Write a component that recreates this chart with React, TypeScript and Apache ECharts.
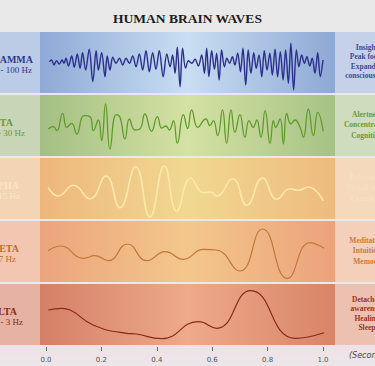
import React, { useEffect, useRef } from "react";
import * as echarts from "echarts";

const X_TICKS = [0, 0.2, 0.4, 0.6, 0.8, 1.0];
const bandNames = ["GAMMA", "BETA", "ALPHA", "THETA", "DELTA"];
const bandRanges = ["30 - 100 Hz", "12 - 30 Hz", "8 - 15 Hz", "4 - 7 Hz", "0.1 - 3 Hz"];
const bandTraits = [
  ["Insight", "Peak focus", "Expanded", "consciousness"],
  ["Alertness", "Concentration", "Cognition"],
  ["Relaxation", "Visualization", "Creativity"],
  ["Meditation", "Intuition", "Memory"],
  ["Detached", "awareness", "Healing", "Sleep"],
];

const gammaWave = [
  [0.012, 0.8], [0.02, 2.5], [0.029, -2.5], [0.038, 1.8], [0.048, -1.5], [0.058, 2.5], [0.065, -0.8],
  [0.072, 4.2], [0.081, -3.5], [0.093, 6.5], [0.102, -4.8], [0.113, 8.5], [0.123, -5.8], [0.132, 9.8],
  [0.143, -7.5], [0.156, 13.2], [0.169, -19.2], [0.181, 11.8], [0.189, -7.5], [0.201, 9.8], [0.213, -14.2],
  [0.221, 6.5], [0.231, -7.5], [0.241, 5.2], [0.253, -0.8], [0.265, 4.2], [0.277, -2.5], [0.289, 4.2],
  [0.301, -0.8], [0.313, 6.5], [0.325, -4.2], [0.337, 8.5], [0.349, -7.5], [0.361, 11.8], [0.373, -9.2],
  [0.385, 9.8], [0.397, -6.8], [0.409, 11.8], [0.423, -14.2], [0.436, 8.5], [0.448, -4.2], [0.457, 7.5],
  [0.466, -10.8], [0.474, 15.2], [0.484, -24.2], [0.493, 14.2], [0.504, -5.8], [0.514, 1.8], [0.526, -0.8],
  [0.538, 3.2], [0.55, -3.5], [0.562, 7.5], [0.572, -10.8], [0.58, 14.2], [0.588, -14.2], [0.598, 11.8],
  [0.608, -6.8], [0.616, 9.2], [0.625, -17.5], [0.634, 12.5], [0.644, -4.2], [0.653, 4.2], [0.663, -0.8],
  [0.673, 5.8], [0.682, -2.5], [0.692, 9.2], [0.702, -9.2], [0.711, 14.2], [0.721, -22.5], [0.73, 12.5],
  [0.74, -10.8], [0.75, 9.8], [0.759, -5.8], [0.769, 7.5], [0.779, -14.2], [0.788, 11.8], [0.798, -7.5],
  [0.808, 9.2], [0.817, -12.5], [0.827, 13.2], [0.836, -14.2], [0.846, 10.8], [0.856, -17.5], [0.865, 12.5],
  [0.875, -20.8], [0.884, 19.2], [0.894, -27.5], [0.904, 12.5], [0.913, -4.2], [0.923, 7.5], [0.933, -0.8],
  [0.942, 5.8], [0.952, -3.5], [0.961, 4.2], [0.971, -10.8], [0.981, 9.8], [0.99, -14.2], [1.0, 2.5],
];

const betaWave = [
  [0.008, -3.5], [0.026, -1.2], [0.039, -5.2], [0.06, 12.2], [0.075, -1.8], [0.093, 2.2], [0.111, -8.5],
  [0.137, 9.8], [0.159, 8.8], [0.171, -5.2], [0.189, 5.5], [0.201, -15.2], [0.215, 21.5], [0.231, -23.5],
  [0.253, 10.8], [0.267, 8.2], [0.285, -13.5], [0.301, 6.5], [0.321, -4.5], [0.339, -3.5], [0.357, 11.5],
  [0.381, -5.8], [0.402, 8.8], [0.418, -2.5], [0.433, -0.5], [0.445, -4.5], [0.46, 4.8], [0.474, -17.8],
  [0.496, 10.8], [0.511, -3.0], [0.526, 15.5], [0.548, -1.8], [0.577, 6.5], [0.592, -0.2], [0.604, 4.8],
  [0.62, -10.2], [0.637, 15.5], [0.652, -17.8], [0.668, 15.5], [0.682, -6.8], [0.7, 10.8], [0.718, -11.8],
  [0.733, 4.8], [0.748, -1.8], [0.761, 5.5], [0.776, -11.8], [0.791, 14.8], [0.809, -17.8], [0.821, 4.8],
  [0.829, -1.8], [0.845, 6.5], [0.857, -18.5], [0.869, 12.2], [0.884, 1.5], [0.899, 5.5], [0.917, -1.8],
  [0.929, -11.8], [0.947, 16.5], [0.965, -10.2], [0.981, 13.2], [1.001, -5.8],
];

const alphaWave = [
  [0.008, 0.8], [0.044, -7.5], [0.099, 3.2], [0.159, -10.2], [0.217, 12.5], [0.267, -19.2], [0.324, 21.8],
  [0.375, -28.5], [0.427, 22.5], [0.472, -22.5], [0.523, 10.2], [0.568, -4.2], [0.595, -3.5], [0.616, -7.5],
  [0.674, 9.8], [0.725, -16.8], [0.782, 10.5], [0.833, -10.8], [0.881, -0.2], [0.911, -1.8], [0.947, 1.5],
  [1.001, -12.5],
];

const thetaWave = [
  [0.008, 0.8], [0.053, 5.5], [0.135, -6.8], [0.177, -4.2], [0.225, -9.2], [0.294, 7.5], [0.364, -9.2],
  [0.43, -0.2], [0.496, -7.8], [0.568, 2.2], [0.616, 1.5], [0.7, -19.5], [0.782, 22.5], [0.871, -26.8],
  [0.953, 8.8], [1.004, 3.2],
];

const deltaWave = [
  [0.008, 4.5], [0.057, 6.2], [0.087, 4.5], [0.17, -10.5], [0.29, -18.8], [0.326, -19.5], [0.417, -24.2],
  [0.55, -7.2], [0.616, -13.8], [0.739, 23.8], [0.899, -23.8], [1.004, -18.2],
];

const waves = [gammaWave, betaWave, alphaWave, thetaWave, deltaWave];

// layout / style
const BAND_TOPS = [32, 95, 158, 221, 284];
const BAND_H = 61;
const lineColors = ["#2a2e8c", "#5f9a2c", "#fbe9a8", "#c07838", "#8a2a1a"];
const lineWidths = [1.4, 1.3, 1.6, 1.2, 1.2];
const plotBg = [
  ["#8ea9d6", "#c9def2", "#8ea8d5"],
  ["#a3bf83", "#d4e2a3", "#a6c285"],
  ["#eeb67c", "#f1d890", "#eeba7e"],
  ["#eca47c", "#f3c78c", "#eca27b"],
  ["#d47f67", "#eeaa8a", "#d88467"],
];
const leftBg = ["#bccbe6", "#c9d5b7", "#f3d4b4", "#f2c6b0", "#e6b2a3"];
const rightBg = ["#c5d1e8", "#d0dcbe", "#f4d9bd", "#f4cfba", "#ecc1b2"];
const nameColors = ["#2c3a8a", "#6a9a32", "#fbe6c6", "#b8702e", "#8a2a1a"];
const traitColors = ["#3a4a9c", "#6c9a36", "#f8dfc4", "#cf7a3a", "#9a3222"];
const nameEnds = [33, 13, 19, 19, 17];
const rangeEnds = [32, 25, 20, 16, 23];

export default function App() {
  const ref = useRef<HTMLDivElement>(null);
  useEffect(() => {
    if (!ref.current) return;
    const chart = echarts.init(ref.current, null, { renderer: "svg" });
    const graphics: any[] = [];
    BAND_TOPS.forEach((top, i) => {
      graphics.push({
        type: "rect", z: 0, shape: { x: 0, y: top, width: 40, height: BAND_H },
        style: { fill: leftBg[i] },
      });
      graphics.push({
        type: "rect", z: 0, shape: { x: 335, y: top, width: 40, height: BAND_H },
        style: { fill: rightBg[i] },
      });
      graphics.push({
        type: "rect", z: 0, shape: { x: 40, y: top, width: 295, height: BAND_H },
        style: {
          fill: new echarts.graphic.LinearGradient(0, 0, 1, 0, [
            { offset: 0, color: plotBg[i][0] },
            { offset: 0.5, color: plotBg[i][1] },
            { offset: 1, color: plotBg[i][2] },
          ]),
        },
      });
      const c = top + BAND_H / 2;
      graphics.push({
        type: "text", z: 10, x: nameEnds[i], y: c - 3.5,
        style: { text: bandNames[i], fill: nameColors[i], font: "bold 10px 'Liberation Serif'", align: "right", verticalAlign: "middle" },
      });
      graphics.push({
        type: "text", z: 10, x: rangeEnds[i], y: c + 7,
        style: { text: bandRanges[i], fill: nameColors[i], font: "9px 'Liberation Serif'", align: "right", verticalAlign: "middle" },
      });
      const traits = bandTraits[i];
      const sp = traits.length === 4 ? 9.2 : 10.5;
      traits.forEach((t, k) => {
        graphics.push({
          type: "text", z: 10, x: 367, y: c + (k - (traits.length - 1) / 2) * sp - 1,
          style: { text: t, fill: traitColors[i], font: "bold 7.5px 'Liberation Serif'", align: "center", verticalAlign: "middle" },
        });
      });
    });
    graphics.push({
      type: "text", z: 10, x: 187.5, y: 18.5,
      style: { text: "HUMAN BRAIN WAVES", fill: "#1c1c1c", font: "bold 13.5px 'Liberation Serif'", align: "center", verticalAlign: "middle" },
    });
    graphics.push({
      type: "text", z: 10, x: 349, y: 355,
      style: { text: "(Seconds)", fill: "#444", font: "italic 8px 'DejaVu Sans'", align: "left", verticalAlign: "middle" },
    });

    const grids: any[] = BAND_TOPS.map((top) => ({ left: 46, width: 277, top, height: BAND_H }));
    // dedicated axis grid: its y = 0 sits just below the delta band
    grids.push({ left: 46, width: 277, top: 343, height: 8 });
    const xAxes: any[] = BAND_TOPS.map((_, i) => ({
      type: "value", gridIndex: i, min: 0, max: 1, show: false,
    }));
    xAxes.push({
      type: "value", gridIndex: 5, min: 0, max: 1, interval: 0.2,
      axisLine: { show: false },
      splitLine: { show: false },
      axisTick: { show: true, length: 4, lineStyle: { color: "#666", width: 1 } },
      axisLabel: {
        show: true, fontSize: 7, color: "#555", fontFamily: "DejaVu Sans", margin: 5,
        formatter: (v: number) => (X_TICKS.includes(Math.round(v * 10) / 10) ? v.toFixed(1) : ""),
      },
    });
    const yAxes: any[] = BAND_TOPS.map((_, i) => ({
      type: "value", gridIndex: i, min: -30.5, max: 30.5, show: false,
    }));
    yAxes.push({ type: "value", gridIndex: 5, min: -1, max: 1, show: false });
    const series = waves.map((w, i) => ({
      type: "line", xAxisIndex: i, yAxisIndex: i, data: w,
      smooth: i === 0 ? 0.35 : 0.5, symbol: "none", clip: false, z: 5,
      lineStyle: { color: lineColors[i], width: lineWidths[i] },
    }));

    chart.setOption({
      animation: false,
      backgroundColor: "transparent",
      grid: grids,
      xAxis: xAxes,
      yAxis: yAxes,
      series,
      graphic: graphics,
    });
    return () => chart.dispose();
  }, []);
  return (
    <div
      style={{
        position: "fixed", left: 0, top: 0, width: 375, height: 366,
        background: "linear-gradient(180deg, #e9e9e9 0%, #ece9ea 80%, #f0e1e6 94%, #ebe6e9 100%)",
      }}
    >
      <div ref={ref} style={{ width: 375, height: 366 }} />
    </div>
  );
}
